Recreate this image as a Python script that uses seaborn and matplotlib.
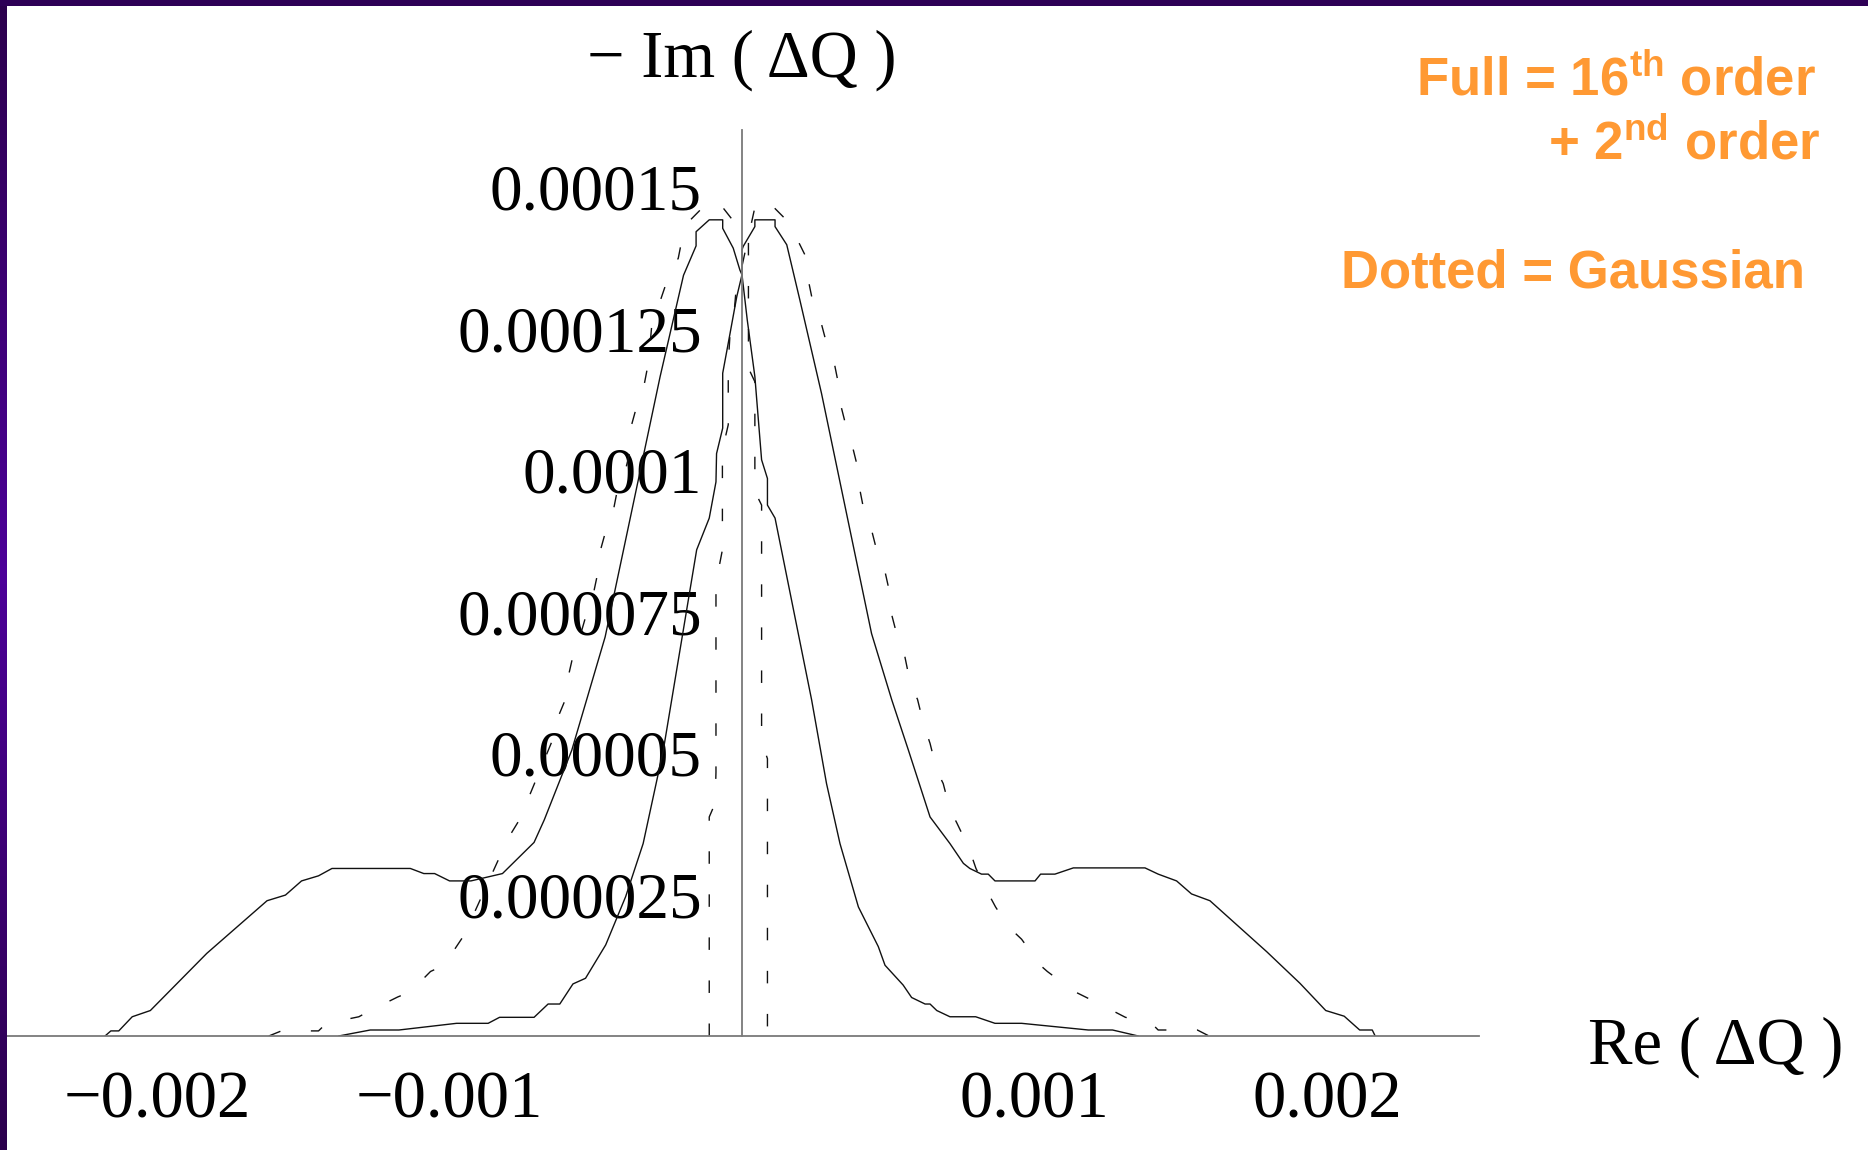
import numpy as np
import pandas as pd
import matplotlib
matplotlib.use("Agg")
import matplotlib.pyplot as plt
import seaborn as sns
from matplotlib.ticker import FixedLocator, FixedFormatter, MultipleLocator
from matplotlib.patches import Rectangle

# ---------------- data (Re in units of 1e-3, -Im in units of 1e-6) ----------------
# solid curve A : wide on the left, narrow on the right
curve_a_re = [-2.178, -2.158, -2.131, -2.085, -2.023, -1.830, -1.624, -1.561, -1.506, -1.448,
              -1.402, -1.134, -1.088, -1.051, -1.000, -0.927, -0.819, -0.711, -0.676, -0.582,
              -0.468, -0.280, -0.200, -0.157, -0.157, -0.112, -0.066, -0.066, -0.030, -0.007,
              0.000, 0.018, 0.044, 0.067, 0.087, 0.087, 0.113, 0.238, 0.289, 0.335,
              0.398, 0.466, 0.489, 0.551, 0.580, 0.626, 0.643, 0.666, 0.711, 0.799,
              0.865, 0.956, 1.184, 1.267, 1.355]
curve_a_im = [0.0, 0.9, 0.9, 3.4, 4.5, 14.6, 23.9, 24.9, 27.4, 28.3,
              29.6, 29.6, 28.7, 28.7, 27.4, 27.4, 28.7, 34.2, 38.2, 50.5,
              70.5, 116.5, 134.4, 139.6, 142.1, 144.2, 144.2, 142.7, 139.2, 135.3,
              134.5, 126.5, 116.5, 101.8, 98.5, 93.8, 91.5, 59.4, 44.6, 34.0,
              22.8, 15.8, 12.5, 9.0, 6.8, 5.65, 5.65, 4.5, 3.4, 3.4,
              2.24, 2.24, 1.06, 1.06, 0.0]

# solid curve B : narrow on the left, wide on the right
curve_b_re = [-1.379, -1.271, -1.173, -0.976, -0.868, -0.829, -0.711, -0.663, -0.623, -0.578,
              -0.535, -0.466, -0.398, -0.338, -0.269, -0.155, -0.112, -0.089, -0.087, -0.066,
              -0.066, -0.041, -0.018, 0.000, 0.000, 0.004, 0.044, 0.044, 0.113, 0.113,
              0.153, 0.198, 0.272, 0.443, 0.512, 0.569, 0.643, 0.711, 0.757, 0.779,
              0.819, 0.842, 0.865, 1.002, 1.021, 1.070, 1.133, 1.378, 1.423, 1.486,
              1.537, 1.600, 1.794, 1.908, 1.996, 2.059, 2.112, 2.155, 2.165]
curve_b_im = [0.0, 1.06, 1.06, 2.24, 2.24, 3.3, 3.3, 5.65, 5.65, 9.2,
              10.2, 16.1, 24.6, 34.0, 50.5, 85.9, 91.5, 97.9, 102.9, 107.4,
              117.1, 124.1, 130.6, 134.5, 138.9, 139.5, 143.0, 144.2, 144.2, 143.0,
              139.8, 130.0, 113.5, 71.1, 59.4, 50.5, 38.7, 34.0, 30.5, 29.6,
              28.6, 28.6, 27.4, 27.4, 28.6, 28.6, 29.7, 29.7, 28.6, 27.4,
              25.1, 23.9, 14.9, 9.3, 4.5, 3.5, 1.06, 1.06, 0.0]

# dashed (Gaussian) curve C : wide on the left
gauss_c_re = [-1.618, -1.575, -1.448, -1.422, -1.310, -1.271, -1.177, -1.134, -1.065, -1.019,
              -0.957, -0.937, -0.800, -0.761, -0.643, -0.643, -0.602, -0.602, -0.576, -0.559,
              -0.531, -0.514, -0.490, -0.490, -0.465, -0.445, -0.423, -0.400, -0.379, -0.379,
              -0.354, -0.337, -0.315, -0.315, -0.309, -0.292, -0.246, -0.218, -0.200, -0.180,
              -0.109, -0.066, 0.022, 0.022, 0.044, 0.044, 0.067, 0.067, 0.087, 0.087]
gauss_c_im = [0.0, 0.9, 0.9, 2.2, 3.4, 4.5, 6.9, 7.8, 11.4, 12.5,
              17.3, 19.3, 34.9, 38.2, 52.9, 54.6, 59.7, 61.7, 67.6, 69.7,
              74.7, 76.7, 82.6, 84.7, 89.4, 91.5, 97.3, 99.7, 104.1, 107.7,
              112.4, 114.4, 120.3, 121.8, 125.3, 128.0, 135.0, 137.4, 142.1, 144.0,
              147.7, 146.4, 140.6, 118.0, 115.6, 96.2, 93.8, 52.0, 49.0, 0.0]

# dashed (Gaussian) curve D : wide on the right
gauss_d_re = [-0.112, -0.112, -0.092, -0.089, -0.089, -0.067, -0.067, -0.047, -0.047, -0.041,
              -0.030, -0.020, -0.009, 0.044, 0.061, 0.084, 0.155, 0.176, 0.221, 0.221,
              0.244, 0.265, 0.289, 0.310, 0.333, 0.333, 0.356, 0.378, 0.400, 0.400,
              0.422, 0.443, 0.466, 0.487, 0.512, 0.512, 0.535, 0.555, 0.578, 0.600,
              0.622, 0.643, 0.666, 0.688, 0.711, 0.734, 0.776, 0.800, 0.843, 0.867,
              0.911, 0.956, 1.022, 1.044, 1.133, 1.178, 1.266, 1.311, 1.401, 1.423,
              1.444, 1.557, 1.597]
gauss_d_im = [0.0, 38.7, 41.1, 46.6, 80.0, 85.9, 103.5, 108.0, 118.8, 124.0,
              126.0, 132.0, 133.9, 146.4, 147.7, 147.7, 144.0, 142.1, 137.4, 135.0,
              129.2, 127.1, 122.4, 120.3, 114.4, 112.4, 107.7, 104.1, 99.5, 97.3,
              91.5, 89.4, 84.7, 82.5, 76.7, 74.4, 69.8, 67.5, 61.7, 59.5,
              54.9, 51.7, 46.9, 44.6, 40.0, 37.7, 33.2, 29.6, 25.1, 22.8,
              19.3, 17.1, 12.4, 11.4, 7.95, 6.8, 4.5, 3.3, 2.2, 1.06,
              1.06, 1.06, 0.0]

x_tick_values = [-0.002, -0.001, 0.001, 0.002]
x_tick_labels = ["\u22120.002", "\u22120.001", "0.001", "0.002"]
y_tick_values = [0.000025, 0.00005, 0.000075, 0.0001, 0.000125, 0.00015]
y_tick_labels = ["0.000025", "0.00005", "0.000075", "0.0001", "0.000125", "0.00015"]

x_label = "Re ( \u0394Q )"
y_label = "\u2212 Im ( \u0394Q )"
note_lines = ["Full = 16$^{\\mathbf{th}}$ order", "+ 2$^{\\mathbf{nd}}$ order", "Dotted = Gaussian"]

# ---------------- style ----------------
sns.set_style("white")
plt.rcParams["font.family"] = ["Liberation Serif", "DejaVu Serif"]
plt.rcParams["text.color"] = "black"
plt.rcParams["axes.labelcolor"] = "black"
plt.rcParams["mathtext.fontset"] = "custom"
plt.rcParams["mathtext.bf"] = "Liberation Sans:bold"
plt.rcParams["mathtext.rm"] = "Liberation Sans:bold"
plt.rcParams["mathtext.it"] = "Liberation Sans:bold:italic"
plt.rcParams["lines.scale_dashes"] = False

W, H = 1868, 1150
fig = plt.figure(figsize=(W / 100, H / 100), dpi=100)
fig.patch.set_facecolor("white")

ax_left, ax_bottom, ax_w, ax_h = 5, 114, 1474, 905.6
ax = fig.add_axes([ax_left / W, ax_bottom / H, ax_w / W, ax_h / H])
ax.set_facecolor("white")

line_color = "#111111"
dash_style = (0, (9, 22))
for re_vals, im_vals, ls in [(curve_a_re, curve_a_im, "-"),
                             (curve_b_re, curve_b_im, "-"),
                             (gauss_c_re, gauss_c_im, dash_style),
                             (gauss_d_re, gauss_d_im, dash_style)]:
    df = pd.DataFrame({"re": np.array(re_vals) * 1e-3, "im": np.array(im_vals) * 1e-6})
    sns.lineplot(data=df, x="re", y="im", sort=False, estimator=None, ax=ax,
                 color=line_color, linewidth=1.0, linestyle=ls)

ax.set_xlim(-0.00252, 0.00252)
ax.set_ylim(0, 0.00016)

for side in ["top", "right"]:
    ax.spines[side].set_visible(False)
ax.spines["left"].set_position(("data", 0))
ax.spines["bottom"].set_position(("data", 0))
for side in ["left", "bottom"]:
    ax.spines[side].set_color("#7a7a7a")
    ax.spines[side].set_linewidth(1.3)

ax.xaxis.set_major_locator(FixedLocator(x_tick_values))
ax.xaxis.set_major_formatter(FixedFormatter(x_tick_labels))
ax.xaxis.set_minor_locator(MultipleLocator(0.0002))
ax.yaxis.set_major_locator(FixedLocator(y_tick_values))
ax.yaxis.set_major_formatter(FixedFormatter(y_tick_labels))
ax.yaxis.set_minor_locator(MultipleLocator(0.000005))

ax.tick_params(axis="both", which="both", direction="in", color="#7a7a7a", width=1.0,
               labelcolor="black")
ax.tick_params(axis="x", which="major", length=5, pad=25, labelsize=48)
ax.tick_params(axis="x", which="minor", length=4.5)
ax.tick_params(axis="y", which="major", length=5, pad=29, labelsize=47)
ax.tick_params(axis="y", which="minor", length=3)

ax.set_ylabel(y_label, rotation=0, fontsize=48, ha="center", va="center", color="black")
ax.yaxis.set_label_coords(0.5, 1.077)
ax.set_xlabel(x_label, fontsize=48, ha="left", va="center", color="black")
ax.xaxis.set_label_coords(1.074, -0.012)

# orange annotation
note_color = "#ff9933"
note_pos = [(1816, 95), (1821, 159), (1805, 287)]
for txt, (px, py) in zip(note_lines, note_pos):
    fig.text(px / W, 1 - py / H, txt, ha="right", va="baseline", color=note_color,
             fontsize=38, fontweight="bold", family=["Liberation Sans", "DejaVu Sans"])

# purple slide frame (top bar and left gradient strip)
fig.add_artist(Rectangle((0, 1 - 6 / H), 1, 6 / H, transform=fig.transFigure,
                         facecolor="#2e0056", edgecolor="none", zorder=10))
bax = fig.add_axes([0, 0, 7 / W, 1])
t = np.linspace(0, 1, 256)
mid = 1 - np.abs(t - 0.5) * 2
dark = np.array([0.17, 0.0, 0.30])
bright = np.array([0.30, 0.0, 0.60])
grad = dark[None, :] + (bright - dark)[None, :] * mid[:, None]
bax.imshow(grad[:, None, :], aspect="auto", extent=[0, 1, 0, 1])
bax.set_axis_off()

fig.savefig("out.png", dpi=100, facecolor="white")
